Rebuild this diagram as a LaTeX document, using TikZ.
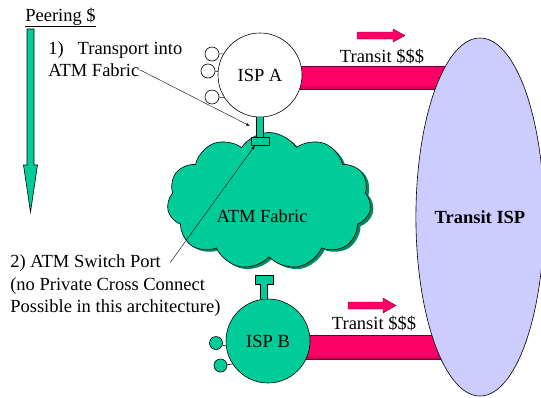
\documentclass[tikz,border=0pt]{standalone}
\usepackage{fontspec}
\setmainfont{LiberationSerif}[Extension=.ttf,UprightFont=*-Regular,BoldFont=*-Bold,
  ItalicFont=*-Italic,BoldItalicFont=*-BoldItalic]
\usetikzlibrary{shapes.geometric,shapes.symbols,backgrounds}

\definecolor{fabricgreen}{HTML}{00CC99}
\definecolor{fabricdark}{HTML}{008866}
\definecolor{transitblue}{HTML}{CCCCFF}
\definecolor{pipepink}{HTML}{FF0066}
\definecolor{pipedark}{HTML}{660033}
\pgfdeclareverticalshading{pipeshade}{100bp}{color(0bp)=(pipedark); color(8bp)=(pipedark);
  color(35bp)=(pipepink); color(85bp)=(pipepink); color(92bp)=(pipedark); color(100bp)=(pipedark)}

\tikzset{
  isp/.style={circle,draw,minimum size=84pt},
  stub/.style={circle,draw,minimum size=14pt},
  port/.style={rectangle,draw,fill=fabricgreen,minimum width=18pt,minimum height=8pt},
  stem/.style={draw=black,double=fabricgreen,double distance=6.5pt},
  fabricshape/.style={cloud,cloud puffs=11,cloud puff arc=115,minimum width=204pt,minimum height=137pt},
  pipe/.style={draw=pipedark,shading=pipeshade},
  money/.style={fill=pipepink,draw=pipedark},
}

\begin{document}
\begin{tikzpicture}[x=1pt,y=-1pt,line width=0.6pt,inner sep=0pt,>=latex,
  font=\fontsize{18.5}{22}\selectfont]
\useasboundingbox (0,0) rectangle (541,397);

\node[anchor=base west] (peer) at (25,21) {\underline{Peering \$}};
\filldraw[fill=fabricgreen] (27,29) -- (34,29) -- (34,165) -- (37.5,165) -- (30.5,212)
  -- (23.5,165) -- (27,165) -- cycle;

\node[anchor=base west] (note1a) at (48,54) {1)\hspace{14pt}Transport into};
\node[anchor=base west] (note1b) at (48,76) {ATM Fabric};
\node[anchor=base west] (note2a) at (10,267) {2) ATM Switch Port};
\node[anchor=base west] (note2b) at (10,290) {(no Private Cross Connect};
\node[anchor=base west] (note2c) at (10,312) {Possible in this architecture)};

\node[fabricshape,fill=fabricdark] (shadow) at (272,203) {};
\node[fabricshape,draw,fill=fabricgreen] (fabric) at (269,201) {};
\node (fabtext) at (262,216) {ATM Fabric};

\node[isp,fill=white] (ispA) at (260,75) {ISP A};
\node[isp,fill=fabricgreen] (ispB) at (268,341) {ISP B};

\node[stub,fill=white] (a1) at (212,54) {};
\node[stub,fill=white] (a2) at (208,71) {};
\node[stub,fill=white] (a3) at (212,97) {};
\draw (a1) -- (ispA.150);
\draw (a2) -- (ispA.175);
\draw (a3) -- (ispA.212);

\node[stub,fill=fabricgreen,minimum size=13pt] (b1) at (216,343) {};
\node[stub,fill=fabricgreen,minimum size=13pt] (b2) at (220.5,365.5) {};
\draw (b1) -- (ispB.187);
\draw (b2) -- (ispB.213);

\node[port] (portA) at (260,141) {};
\node[port,minimum height=9pt] (portB) at (264,279.5) {};
\draw[stem] (portA.north) -- (portA.north |- ispA.south);
\draw[stem] (portB.south) -- (portB.south |- ispB.north);

\node[ellipse,draw,fill=transitblue,minimum width=124pt,minimum height=358pt,
  font=\bfseries\fontsize{18.5}{22}\selectfont] (transit) at (480,217) {Transit ISP};

\begin{pgfonlayer}{background}
\shade[pipe] ([yshift=9pt]ispA.center) rectangle ([yshift=-14pt]transit.center |- ispA.center);
\shade[pipe] ([yshift=6pt]ispB.center) rectangle ([yshift=-18pt]transit.center |- ispB.center);
\end{pgfonlayer}

\node[anchor=base] (costA) at (382,62) {Transit \$\$\$};
\node[anchor=base] (costB) at (374,329) {Transit \$\$\$};
\filldraw[money] (357,32) -- (393,32) -- (393,29) -- (405,35.5) -- (393,42) -- (393,39)
  -- (357,39) -- cycle;
\filldraw[money] (348,302) -- (383,302) -- (383,298) -- (396,305.5) -- (383,313) -- (383,309)
  -- (348,309) -- cycle;

\coordinate (tipA) at (250,126);
\draw[->] (note1b.east) -- (tipA);
\draw[->] ([xshift=9pt]note2a.east) -- ([xshift=-5pt]portA.south);
\end{tikzpicture}
\end{document}
